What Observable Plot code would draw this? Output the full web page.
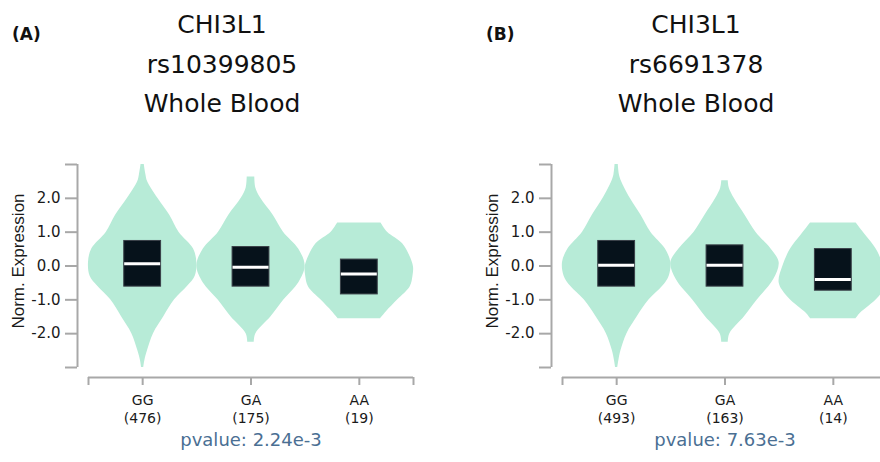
<!DOCTYPE html>
<html><head><meta charset="utf-8">
<script src="https://cdn.jsdelivr.net/npm/d3@7"></script>
<script src="https://cdn.jsdelivr.net/npm/@observablehq/plot@0.6"></script>
<style>
html,body{margin:0;padding:0;background:#fff;overflow:hidden;width:880px;height:462px;}
.panel{position:absolute;top:0;width:440px;height:462px;}
.tag{position:absolute;left:12px;top:24px;font:bold 17px "DejaVu Sans";line-height:20px;color:#111;}
.title{position:absolute;left:0;top:5px;width:444px;text-align:center;font:25px "DejaVu Sans";line-height:39.5px;color:#111;}
.chart{position:absolute;left:0;top:140px;}
</style></head><body>
<div id="A" class="panel" style="left:0"></div>
<div id="B" class="panel" style="left:474px"></div>
<script>
const genotypes = ["GG", "GA", "AA"];
const yTicks = [-2, -1, 0, 1, 2];

// Panel A: CHI3L1 rs10399805
const titleA = ["CHI3L1", "rs10399805", "Whole Blood"];
const countsA = [476, 175, 19];
const pvalueA = "2.24e-3";
const q1A = [-0.61, -0.61, -0.84];
const medA = [0.07, -0.04, -0.24];
const q3A = [0.74, 0.56, 0.19];
const levelsA_GG = [3.0, 2.7, 2.5, 2.0, 1.5, 1.0, 0.5, 0.1, -0.3, -0.6, -1.0, -1.5, -2.0, -2.5, -2.8, -3.0];
const widthsA_GG = [0.03, 0.06, 0.09, 0.28, 0.5, 0.67, 0.94, 1.0, 0.97, 0.83, 0.59, 0.39, 0.2, 0.09, 0.04, 0.02];
const levelsA_GA = [2.63, 2.3, 2.0, 1.5, 1.0, 0.5, 0.0, -0.5, -1.0, -1.5, -2.0, -2.25];
const widthsA_GA = [0.07, 0.09, 0.18, 0.41, 0.6, 0.88, 1.0, 0.88, 0.61, 0.37, 0.09, 0.06];
const levelsA_AA = [1.27, 1.0, 0.66, 0.3, -0.03, -0.3, -0.61, -1.0, -1.35, -1.56];
const widthsA_AA = [0.40, 0.52, 0.8, 0.93, 1.0, 0.99, 0.94, 0.71, 0.5, 0.39];

// Panel B: CHI3L1 rs6691378
const titleB = ["CHI3L1", "rs6691378", "Whole Blood"];
const countsB = [493, 163, 14];
const pvalueB = "7.63e-3";
const q1B = [-0.61, -0.61, -0.73];
const medB = [0.02, 0.02, -0.40];
const q3B = [0.74, 0.61, 0.50];
const levelsB_GG = [3.0, 2.7, 2.5, 2.0, 1.5, 1.0, 0.5, 0.1, -0.3, -0.6, -1.0, -1.5, -2.0, -2.5, -2.8, -3.0];
const widthsB_GG = [0.03, 0.05, 0.09, 0.25, 0.45, 0.63, 0.9, 1.0, 0.97, 0.85, 0.6, 0.38, 0.19, 0.08, 0.04, 0.02];
const levelsB_GA = [2.52, 2.3, 2.0, 1.5, 1.0, 0.5, 0.1, -0.4, -1.0, -1.5, -2.0, -2.25];
const widthsB_GA = [0.06, 0.08, 0.17, 0.37, 0.57, 0.85, 1.0, 0.9, 0.6, 0.36, 0.09, 0.06];
const levelsB_AA = [1.27, 0.9, 0.5, 0.0, -0.5, -0.9, -1.2, -1.4, -1.56];
const widthsB_AA = [0.42, 0.6, 0.79, 0.93, 1.0, 0.85, 0.65, 0.5, 0.42];

const AXIS = "#a8a8a8";
const VIOLIN = "#b7ebd7";

function panel(id, tag, title, levels, widths, q1, med, q3, counts, pvalue) {
  const root = document.getElementById(id);
  const t = document.createElement("div"); t.className = "tag"; t.textContent = tag; root.appendChild(t);
  const h = document.createElement("div"); h.className = "title";
  title.forEach(line => { const d = document.createElement("div"); d.textContent = line; h.appendChild(d); });
  root.appendChild(h);

  const violin = [];
  genotypes.forEach((g, i) => levels[i].forEach((v, k) => violin.push({i, v, w: widths[i][k]})));
  const boxes = genotypes.map((g, i) => ({i, q1: q1[i], med: med[i], q3: q3[i]}));
  const half = 0.5, boxHalf = 0.17;

  const chart = Plot.plot({
    width: 440, height: 322,
    marginTop: 24, marginBottom: 95, marginLeft: 88, marginRight: 27,
    style: {fontFamily: "DejaVu Sans", background: "transparent", overflow: "visible"},
    x: {domain: [-0.5, 2.5], axis: null},
    y: {domain: [-3, 3], axis: null},
    marks: [
      Plot.areaX(violin, {y: "v", x1: d => d.i - half * d.w, x2: d => d.i + half * d.w, z: "i", fill: VIOLIN, curve: "catmull-rom"}),
      Plot.rect(boxes, {x1: d => d.i - boxHalf, x2: d => d.i + boxHalf, y1: "q1", y2: "q3", fill: "#06121b", stroke: "#3a4048", strokeWidth: 1}),
      Plot.ruleY(boxes, {y: "med", x1: d => d.i - boxHalf + 0.004, x2: d => d.i + boxHalf - 0.004, stroke: "#fff", strokeWidth: 3}),
      Plot.ruleX([-0.5], {dx: -11, stroke: AXIS, strokeWidth: 2}),
      Plot.axisY([-3, 3], {tickSize: 12, dx: -11, stroke: AXIS, strokeWidth: 2, tickFormat: () => "", label: null}),
      Plot.axisY(yTicks, {tickFormat: d => d.toFixed(1), tickSize: 12, tickPadding: 5, dx: -11, fontSize: 15, fill: "#1a1a1a", stroke: AXIS, strokeWidth: 2, label: null}),
      Plot.text(["Norm. Expression"], {frameAnchor: "left", textAnchor: "middle", dx: -70, dy: -5, rotate: -90, fontSize: 17, fontFamily: "Liberation Sans", fill: "#1a1a1a"}),
      Plot.ruleY([-3], {dy: 10, stroke: AXIS, strokeWidth: 2}),
      Plot.axisX([-0.5, 0, 1, 2, 2.5], {tickSize: 8, dy: 10, stroke: AXIS, strokeWidth: 2, tickFormat: () => "", label: null}),
      Plot.axisX([0, 1, 2], {tickFormat: i => genotypes[i], tickSize: 0, tickPadding: 28, fontSize: 14, fill: "#1a1a1a", label: null}),
      Plot.axisX([0, 1, 2], {tickFormat: i => `(${counts[i]})`, tickSize: 0, tickPadding: 46, fontSize: 14, fill: "#1a1a1a", label: null}),
      Plot.text([`pvalue: ${pvalue}`], {frameAnchor: "bottom", dy: 78, fontSize: 18, fill: "#4a6f93"})
    ]
  });
  chart.classList.add("chart");
  root.appendChild(chart);
}

panel("A", "(A)", titleA, [levelsA_GG, levelsA_GA, levelsA_AA], [widthsA_GG, widthsA_GA, widthsA_AA], q1A, medA, q3A, countsA, pvalueA);
panel("B", "(B)", titleB, [levelsB_GG, levelsB_GA, levelsB_AA], [widthsB_GG, widthsB_GA, widthsB_AA], q1B, medB, q3B, countsB, pvalueB);
</script>
</body></html>
